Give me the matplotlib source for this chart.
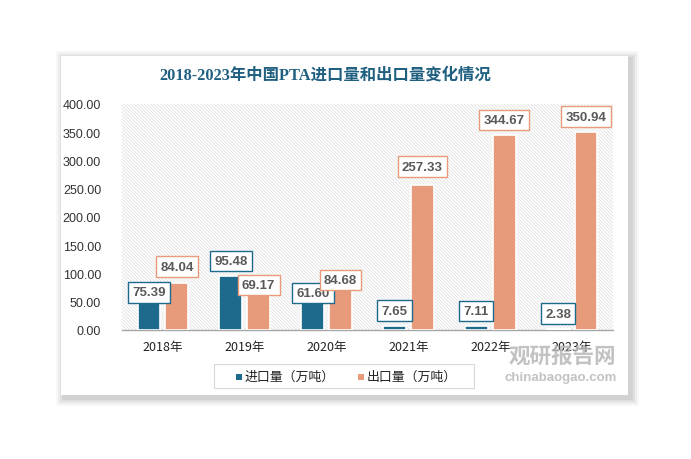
import matplotlib
matplotlib.use("Agg")
import matplotlib.pyplot as plt
from matplotlib.patches import Rectangle
import numpy as np

years = ["2018年", "2019年", "2020年", "2021年", "2022年", "2023年"]
imports = [75.39, 95.48, 61.60, 7.65, 7.11, 2.38]
exports = [84.04, 69.17, 84.68, 257.33, 344.67, 350.94]
yticks = [0, 50, 100, 150, 200, 250, 300, 350, 400]
title = "2018-2023年中国PTA进口量和出口量变化情况"
legend_labels = ["进口量（万吨）", "出口量（万吨）"]

# label offsets above bar tops (pixels)
imp_off = [-5, 15, 2, 15, 15, 15]
exp_off = [16, 6, 2, 18, 15, 15]

BLUE = "#1d6a8c"
ORANGE = "#e79b7b"
CJK = ["Noto Sans CJK SC", "DejaVu Sans"]

plt.rcParams["hatch.linewidth"] = 0.5

W, H = 691, 460
fig = plt.figure(figsize=(W / 100, H / 100), dpi=100)
fig.patch.set_facecolor("white")

# card shadow + card
for i, a in enumerate([0.03, 0.04, 0.05, 0.06]):
    s = 8 - 2 * i
    fig.patches.append(Rectangle(((61 - s + 3) / W, 1 - (396 + s + 3) / H),
                                 (567 + 2 * s) / W, (339 + 2 * s) / H,
                                 transform=fig.transFigure, facecolor="black",
                                 alpha=a, edgecolor="none", zorder=0))
fig.patches.append(Rectangle((61 / W, 1 - 396 / H), 567 / W, 339 / H,
                             transform=fig.transFigure, facecolor="white",
                             edgecolor="none", zorder=1))

ax = fig.add_axes([122 / W, 1 - 331 / H, 491 / W, 226 / H])
ax.set_zorder(2)
ax.set_facecolor("white")
ax.add_patch(Rectangle((0, 0), 1, 1, transform=ax.transAxes, facecolor="white",
                       edgecolor="#dcdcdc", hatch="\\" * 10, linewidth=0, zorder=0))

x = np.arange(len(years))
bw = 0.28
off = 0.17
ax.bar(x - off, imports, bw, color=BLUE, edgecolor="white", linewidth=1.2, zorder=3)
ax.bar(x + off, exports, bw, color=ORANGE, edgecolor="white", linewidth=1.2, zorder=3)

ax.set_xlim(-0.5, len(years) - 0.5)
ax.set_ylim(0, 400)
ax.set_yticks(yticks)
ax.set_yticklabels([f"{v:.2f}" for v in yticks], fontsize=9, color="#333333",
                   family=["Liberation Sans", "DejaVu Sans"])
ax.set_xticks(x)
ax.set_xticklabels(years, fontsize=9, color="#222222", family=CJK)
ax.tick_params(axis="both", length=0)
ax.tick_params(axis="y", pad=15)
ax.tick_params(axis="x", pad=7)
for sp in ["top", "right", "left"]:
    ax.spines[sp].set_visible(False)
ax.spines["bottom"].set_color("#a6a6a6")
ax.spines["bottom"].set_linewidth(1.0)

def label(xc, v, o, ec):
    ax.annotate(f"{v:.2f}", (xc, v), xytext=(0, o * 0.72), textcoords="offset points",
                ha="center", va="center", fontsize=9.5, fontweight="bold",
                color="#595959", family=["Liberation Sans", "DejaVu Sans"], zorder=5,
                bbox=dict(boxstyle="square,pad=0.32", facecolor="white", edgecolor=ec,
                          linewidth=1.0))

for i in range(len(years)):
    label(x[i] - off, imports[i], imp_off[i], BLUE)
    label(x[i] + off, exports[i], exp_off[i], ORANGE)

fig.text(325 / W, 1 - 76 / H, title, ha="center", va="center", fontsize=11.8,
         fontweight="bold", color="#1f5f80",
         family=["Liberation Serif", "Noto Sans CJK SC"], zorder=5)

# legend
fig.patches.append(Rectangle((214 / W, 1 - 389 / H), 260 / W, 24 / H,
                             transform=fig.transFigure, facecolor="white",
                             edgecolor="#d9d9d9", linewidth=0.8, zorder=3))
for xs, col, lab in [(236, BLUE, legend_labels[0]), (358, ORANGE, legend_labels[1])]:
    fig.patches.append(Rectangle(((xs) / W, 1 - 380.5 / H), 6 / W, 6 / H,
                                 transform=fig.transFigure, facecolor=col,
                                 edgecolor="none", zorder=4))
    fig.text((xs + 9) / W, 1 - 377.5 / H, lab, ha="left", va="center", fontsize=9.3,
             color="#222222", family=CJK, zorder=4)

# watermark
fig.text(562 / W, 1 - 356 / H, "观研报告网", ha="center", va="center", fontsize=15.5,
         fontweight="bold", color="#b8b8b8", family=CJK, alpha=0.85, zorder=6)
fig.text(561 / W, 1 - 378 / H, "chinabaogao.com", ha="center", va="center", fontsize=9.5,
         fontweight="bold", color="#b8b8b8", family=["Liberation Sans", "DejaVu Sans"],
         alpha=0.85, zorder=6)

fig.savefig("out.png", dpi=100, facecolor="white")
